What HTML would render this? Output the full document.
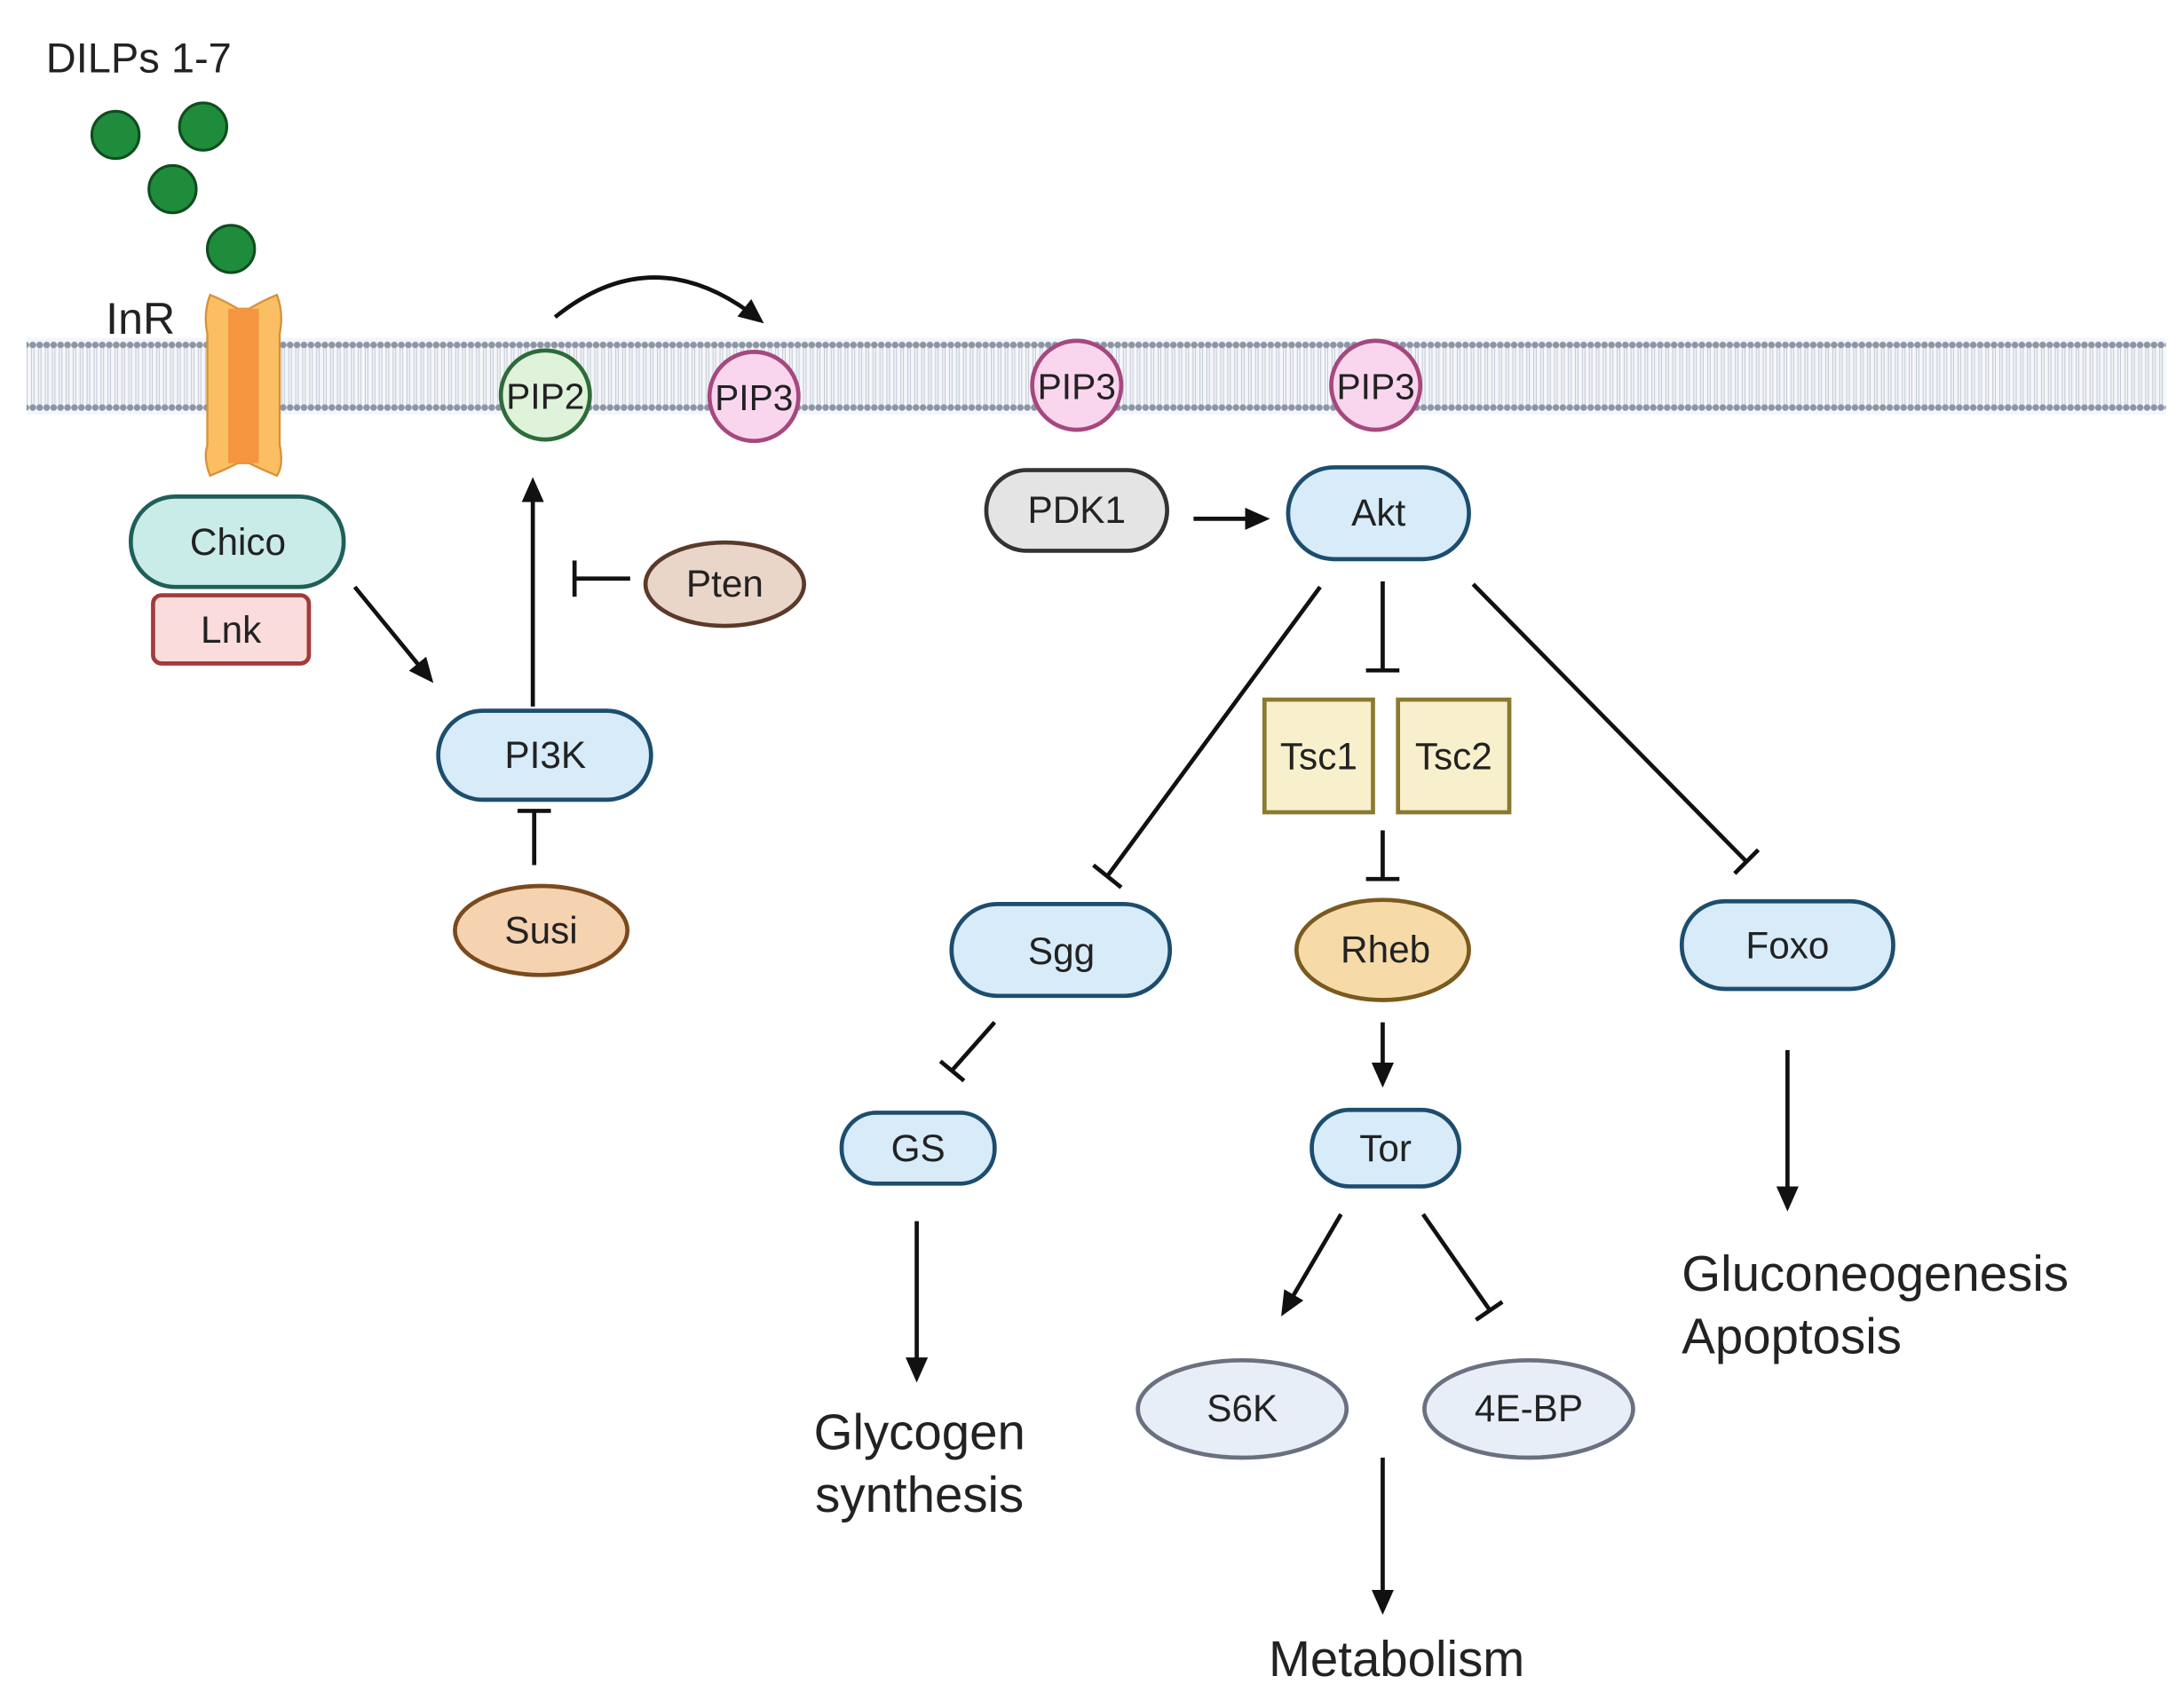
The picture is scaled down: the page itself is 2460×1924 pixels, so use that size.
<!DOCTYPE html>
<html><head><meta charset="utf-8"><style>html,body{margin:0;padding:0;background:#fff}svg{display:block}</style></head>
<body>
<svg width="2460" height="1924" viewBox="0 0 1568 1228" xmlns="http://www.w3.org/2000/svg" font-family="Liberation Sans, sans-serif">
<defs>
<marker id="ar" markerWidth="18" markerHeight="16" refX="14" refY="8" orient="auto" markerUnits="userSpaceOnUse" viewBox="0 0 18 16"><path d="M0,0 L18,8 L0,16 z" fill="#111"/></marker>
<pattern id="dots" x="0" y="243" width="5" height="55" patternUnits="userSpaceOnUse">
<circle cx="2.5" cy="5" r="2.4" fill="#8a95a5"/>
<circle cx="2.5" cy="50" r="2.4" fill="#8a95a5"/>
<line x1="1.6" y1="7" x2="1.6" y2="48" stroke="#c5ccd6" stroke-width="0.7"/>
<line x1="3.4" y1="7" x2="3.4" y2="48" stroke="#c5ccd6" stroke-width="0.7"/>
</pattern>
</defs>
<rect width="1568" height="1228" fill="#fff"/>
<text x="32" y="52" font-size="30" fill="#222">DILPs 1-7</text>
<g fill="#1f8c3b" stroke="#0f4d20" stroke-width="2">
<circle cx="82" cy="97" r="17"/><circle cx="145" cy="91" r="17"/><circle cx="123" cy="136" r="17"/><circle cx="165" cy="179" r="17"/>
</g>
<text x="75" y="240" font-size="32" fill="#222">InR</text>
<rect x="18" y="243" width="1538" height="55" fill="#f4f6f9"/>
<rect x="18" y="243" width="1538" height="55" fill="url(#dots)"/>
<path d="M150,212 Q160,216 170,222 L178,222 Q188,216 198,212 Q203,225 200,240 L200,320 Q203,335 198,342 Q188,338 178,333 L170,333 Q160,338 150,342 Q145,330 148,320 L148,240 Q145,225 150,212 z" fill="#fbbf63" stroke="#d9913a" stroke-width="1.5"/>
<rect x="163" y="222" width="22" height="111" fill="#f6953f"/>
<circle cx="391" cy="284" r="32" fill="#dff2da" stroke="#2e6b3a" stroke-width="3"/>
<text x="391" y="294" font-size="26" text-anchor="middle" fill="#222">PIP2</text>
<g fill="#fad6ee" stroke="#a5487f" stroke-width="3">
<circle cx="541" cy="285" r="32"/><circle cx="773" cy="277" r="32"/><circle cx="988" cy="277" r="32"/></g>
<g font-size="26" text-anchor="middle" fill="#222">
<text x="541" y="295">PIP3</text><text x="773" y="287">PIP3</text><text x="988" y="287">PIP3</text></g>
<path d="M398,228 Q470,170 545,230" fill="none" stroke="#111" stroke-width="3" marker-end="url(#ar)"/>
<rect x="93" y="357" width="153" height="65" rx="32" fill="#c9ece8" stroke="#1e5f5a" stroke-width="3"/>
<text x="170" y="399" font-size="27" text-anchor="middle" fill="#222">Chico</text>
<rect x="109" y="428" width="112" height="49" rx="6" fill="#fbdcdc" stroke="#a33a3a" stroke-width="3"/>
<text x="165" y="462" font-size="27" text-anchor="middle" fill="#222">Lnk</text>
<line x1="254" y1="422" x2="308" y2="488" stroke="#111" stroke-width="3" marker-end="url(#ar)"/>
<rect x="314" y="511" width="153" height="64" rx="32" fill="#d7ebf8" stroke="#1d4d6e" stroke-width="3"/>
<text x="391" y="552" font-size="27" text-anchor="middle" fill="#222">PI3K</text>
<line x1="382" y1="508" x2="382" y2="347" stroke="#111" stroke-width="3" marker-end="url(#ar)"/>
<ellipse cx="520" cy="420" rx="57" ry="30" fill="#ead5c9" stroke="#5a3a2a" stroke-width="3"/>
<text x="520" y="429" font-size="27" text-anchor="middle" fill="#222">Pten</text>
<line x1="452" y1="416" x2="412" y2="416" stroke="#111" stroke-width="3"/><line x1="412" y1="403" x2="412" y2="429" stroke="#111" stroke-width="3"/>
<ellipse cx="388" cy="669" rx="62" ry="32" fill="#f5d3b0" stroke="#7a4a1e" stroke-width="3"/>
<text x="388" y="678" font-size="27" text-anchor="middle" fill="#222">Susi</text>
<line x1="383" y1="622" x2="383" y2="583" stroke="#111" stroke-width="3"/><line x1="371" y1="583" x2="395" y2="583" stroke="#111" stroke-width="3"/>
<rect x="708" y="338" width="130" height="58" rx="29" fill="#e4e4e4" stroke="#333" stroke-width="3"/>
<text x="773" y="376" font-size="27" text-anchor="middle" fill="#222">PDK1</text>
<line x1="857" y1="373" x2="908" y2="373" stroke="#111" stroke-width="3" marker-end="url(#ar)"/>
<rect x="925" y="336" width="130" height="66" rx="33" fill="#d7ebf8" stroke="#1d4d6e" stroke-width="3"/>
<text x="990" y="378" font-size="27" text-anchor="middle" fill="#222">Akt</text>
<g stroke="#111" stroke-width="3">
<line x1="948" y1="422" x2="795" y2="630"/><line x1="785" y1="622" x2="805" y2="638"/>
<line x1="993" y1="418" x2="993" y2="482"/><line x1="981" y1="482" x2="1005" y2="482"/>
<line x1="1058" y1="420" x2="1255" y2="620"/><line x1="1246" y1="628" x2="1263" y2="611"/>
<line x1="993" y1="597" x2="993" y2="632"/><line x1="981" y1="632" x2="1005" y2="632"/>
<line x1="714" y1="735" x2="683" y2="770"/><line x1="675" y1="763" x2="692" y2="777"/>
<line x1="1022" y1="873" x2="1070" y2="942"/><line x1="1060" y1="949" x2="1079" y2="936"/>
</g>
<rect x="908" y="503" width="78" height="81" fill="#f8f0cc" stroke="#8a7a30" stroke-width="3"/>
<rect x="1004" y="503" width="80" height="81" fill="#f8f0cc" stroke="#8a7a30" stroke-width="3"/>
<text x="947" y="553" font-size="27" text-anchor="middle" fill="#222">Tsc1</text>
<text x="1044" y="553" font-size="27" text-anchor="middle" fill="#222">Tsc2</text>
<rect x="683" y="650" width="157" height="66" rx="33" fill="#d7ebf8" stroke="#1d4d6e" stroke-width="3"/>
<text x="762" y="693" font-size="27" text-anchor="middle" fill="#222">Sgg</text>
<ellipse cx="993" cy="683" rx="62" ry="36" fill="#f6dba8" stroke="#7a5a1e" stroke-width="3"/>
<text x="995" y="692" font-size="27" text-anchor="middle" fill="#222">Rheb</text>
<rect x="1208" y="648" width="152" height="63" rx="31" fill="#d7ebf8" stroke="#1d4d6e" stroke-width="3"/>
<text x="1284" y="689" font-size="27" text-anchor="middle" fill="#222">Foxo</text>
<rect x="604" y="800" width="110" height="51" rx="25" fill="#d7ebf8" stroke="#1d4d6e" stroke-width="3"/>
<text x="659" y="835" font-size="27" text-anchor="middle" fill="#222">GS</text>
<line x1="993" y1="735" x2="993" y2="778" stroke="#111" stroke-width="3" marker-end="url(#ar)"/>
<rect x="942" y="798" width="106" height="55" rx="27" fill="#d7ebf8" stroke="#1d4d6e" stroke-width="3"/>
<text x="995" y="835" font-size="27" text-anchor="middle" fill="#222">Tor</text>
<line x1="658" y1="878" x2="658" y2="990" stroke="#111" stroke-width="3" marker-end="url(#ar)"/>
<text x="660" y="1042" font-size="36" text-anchor="middle" fill="#222">Glycogen</text>
<text x="660" y="1087" font-size="36" text-anchor="middle" fill="#222">synthesis</text>
<line x1="963" y1="873" x2="922" y2="943" stroke="#111" stroke-width="3" marker-end="url(#ar)"/>
<ellipse cx="892" cy="1013" rx="75" ry="35" fill="#e8eef7" stroke="#6a7080" stroke-width="3"/>
<ellipse cx="1098" cy="1013" rx="75" ry="35" fill="#e8eef7" stroke="#6a7080" stroke-width="3"/>
<text x="892" y="1022" font-size="27" text-anchor="middle" fill="#222">S6K</text>
<text x="1098" y="1022" font-size="27" text-anchor="middle" fill="#222">4E-BP</text>
<line x1="993" y1="1048" x2="993" y2="1157" stroke="#111" stroke-width="3" marker-end="url(#ar)"/>
<text x="1003" y="1205" font-size="36" text-anchor="middle" fill="#222">Metabolism</text>
<line x1="1284" y1="755" x2="1284" y2="867" stroke="#111" stroke-width="3" marker-end="url(#ar)"/>
<text x="1208" y="928" font-size="36" fill="#222">Gluconeogenesis</text>
<text x="1208" y="973" font-size="36" fill="#222">Apoptosis</text>
</svg>
</body></html>
